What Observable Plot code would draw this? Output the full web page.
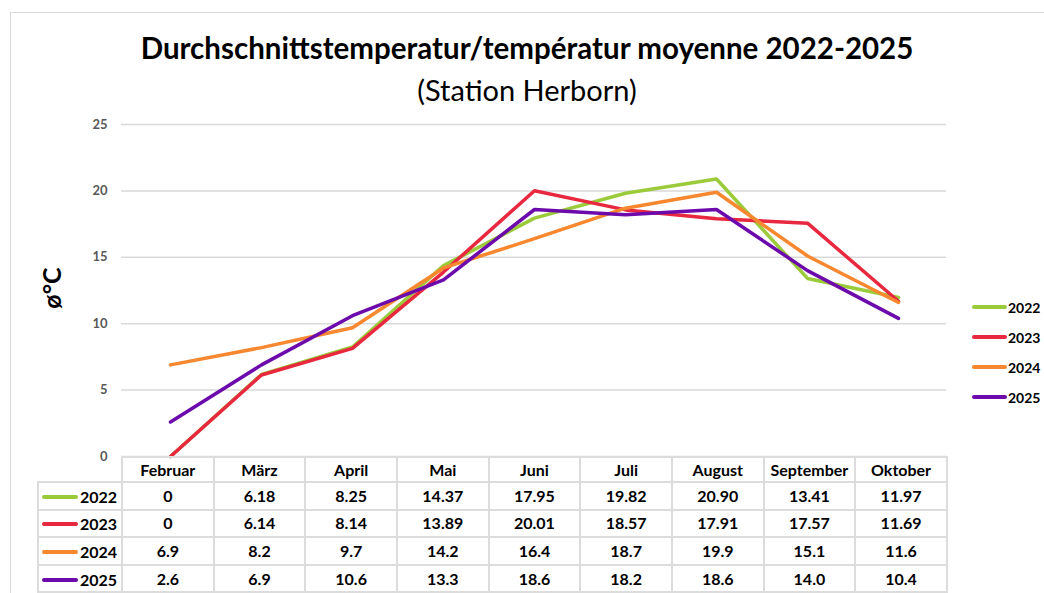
<!DOCTYPE html>
<html>
<head>
<meta charset="utf-8">
<script src="https://cdn.jsdelivr.net/npm/d3@7"></script>
<script src="https://cdn.jsdelivr.net/npm/@observablehq/plot@0.6"></script>
<style>
  html, body { margin: 0; padding: 0; background: #fff; }
  #root { position: relative; width: 1044px; height: 593px; overflow: hidden; font-family: Lato, "Open Sans", sans-serif; }
  #frame { position: absolute; left: 10px; top: 12px; width: 1200px; height: 800px; border: 1px solid #d9d9d9; box-sizing: border-box; }
  #title { position: absolute; left: 0; width: 1054px; top: 30px; text-align: center; font-weight: 700; font-size: 29.5px; color: #000; white-space: nowrap; }
  #subtitle { position: absolute; left: 0; width: 1054px; top: 72px; text-align: center; font-weight: 400; font-size: 29px; color: #000; white-space: nowrap; }
  #ylabel { position: absolute; left: 51px; top: 288px; transform: translate(-50%, -50%) rotate(-90deg); font-weight: 700; font-size: 25px; color: #000; white-space: nowrap; }
  #chart { position: absolute; left: 0; top: 0; }
  #legend { position: absolute; left: 972px; top: 292px; }
  .lg { display: flex; align-items: center; height: 30px; font-weight: 700; font-size: 14px; color: #000; }
  .lg .sw { width: 35px; height: 4px; border-radius: 2px; margin-right: 1px; }
  #tbl { position: absolute; left: 37px; top: 456px; border-collapse: collapse; table-layout: fixed; }
  #tbl td, #tbl th { border: 2px solid #dcdcdc; padding: 0; text-align: center; font-weight: 700; font-size: 16px; line-height: 16px; color: #000; }
  #tbl tr.head { height: 25px; }
  #tbl tr.row { height: 27.6px; }
  #tbl th.corner { border-top: none; border-left: none; }
  #tbl td.key { text-align: left; white-space: nowrap; }
  #tbl td.key .sw { display: inline-block; width: 36px; height: 4px; border-radius: 2px; vertical-align: middle; margin: 0 2px 0 3px; }
  #tbl td.key span.t { vertical-align: middle; }
</style>
</head>
<body>
<div id="root">
  <div id="frame"></div>
  <div id="chart"></div>
  <div id="title">Durchschnittstemperatur/températur moyenne 2022-2025</div>
  <div id="subtitle">(Station Herborn)</div>
  <div id="ylabel">ø°C</div>
  <div id="legend"></div>
  <table id="tbl"></table>
</div>
<script>
const months = ["Februar", "März", "April", "Mai", "Juni", "Juli", "August", "September", "Oktober"];
const years = ["2022", "2023", "2024", "2025"];
const colors = ["#9bcb3b", "#e8283f", "#f7882f", "#6d0aab"];
const v2022 = [0, 6.18, 8.25, 14.37, 17.95, 19.82, 20.90, 13.41, 11.97];
const v2023 = [0, 6.14, 8.14, 13.89, 20.01, 18.57, 17.91, 17.57, 11.69];
const v2024 = [6.9, 8.2, 9.7, 14.2, 16.4, 18.7, 19.9, 15.1, 11.6];
const v2025 = [2.6, 6.9, 10.6, 13.3, 18.6, 18.2, 18.6, 14.0, 10.4];
const labels2022 = ["0", "6.18", "8.25", "14.37", "17.95", "19.82", "20.90", "13.41", "11.97"];
const labels2023 = ["0", "6.14", "8.14", "13.89", "20.01", "18.57", "17.91", "17.57", "11.69"];
const labels2024 = ["6.9", "8.2", "9.7", "14.2", "16.4", "18.7", "19.9", "15.1", "11.6"];
const labels2025 = ["2.6", "6.9", "10.6", "13.3", "18.6", "18.2", "18.6", "14.0", "10.4"];
const yTicks = [0, 5, 10, 15, 20, 25];

const series = [v2022, v2023, v2024, v2025];
const tableLabels = [labels2022, labels2023, labels2024, labels2025];
const data = [];
years.forEach((y, i) => months.forEach((m, j) => data.push({year: y, month: m, value: series[i][j]})));

const chart = Plot.plot({
  width: 1044,
  height: 470,
  marginLeft: 121,
  marginRight: 98,
  marginTop: 124,
  marginBottom: 14,
  style: {background: "transparent", overflow: "visible"},
  x: {type: "point", domain: months, padding: 0.5, axis: null},
  y: {domain: [0, 25], axis: null},
  color: {domain: years, range: colors},
  marks: [
    Plot.gridY(yTicks, {stroke: "#d9d9d9", strokeOpacity: 1, strokeWidth: 1.5}),
    Plot.axisY(yTicks, {tickSize: 0, tickPadding: 14, fontSize: 13, fontWeight: 700, fill: "#595959", label: null, fontFamily: "Lato, sans-serif"}),
    Plot.line(data, {x: "month", y: "value", z: "year", stroke: "year", strokeWidth: 3.5, strokeLinejoin: "round", strokeLinecap: "round"})
  ]
});
document.getElementById("chart").appendChild(chart);

// legend
const lg = document.getElementById("legend");
years.forEach((y, i) => {
  const row = document.createElement("div");
  row.className = "lg";
  row.innerHTML = `<div class="sw" style="background:${colors[i]}"></div><span>${y}</span>`;
  lg.appendChild(row);
});

// table
const tbl = document.getElementById("tbl");
const colW = (946 - 121) / months.length;
const cg = document.createElement("colgroup");
cg.innerHTML = `<col style="width:84px">` + months.map(() => `<col style="width:${colW}px">`).join("");
tbl.appendChild(cg);
const hr = document.createElement("tr");
hr.className = "head";
hr.innerHTML = `<th class="corner"></th>` + months.map(m => `<th>${m}</th>`).join("");
tbl.appendChild(hr);
years.forEach((y, i) => {
  const tr = document.createElement("tr");
  tr.className = "row";
  tr.innerHTML = `<td class="key"><span class="sw" style="background:${colors[i]}"></span><span class="t">${y}</span></td>` +
    tableLabels[i].map(t => `<td>${t}</td>`).join("");
  tbl.appendChild(tr);
});
</script>
</body>
</html>
